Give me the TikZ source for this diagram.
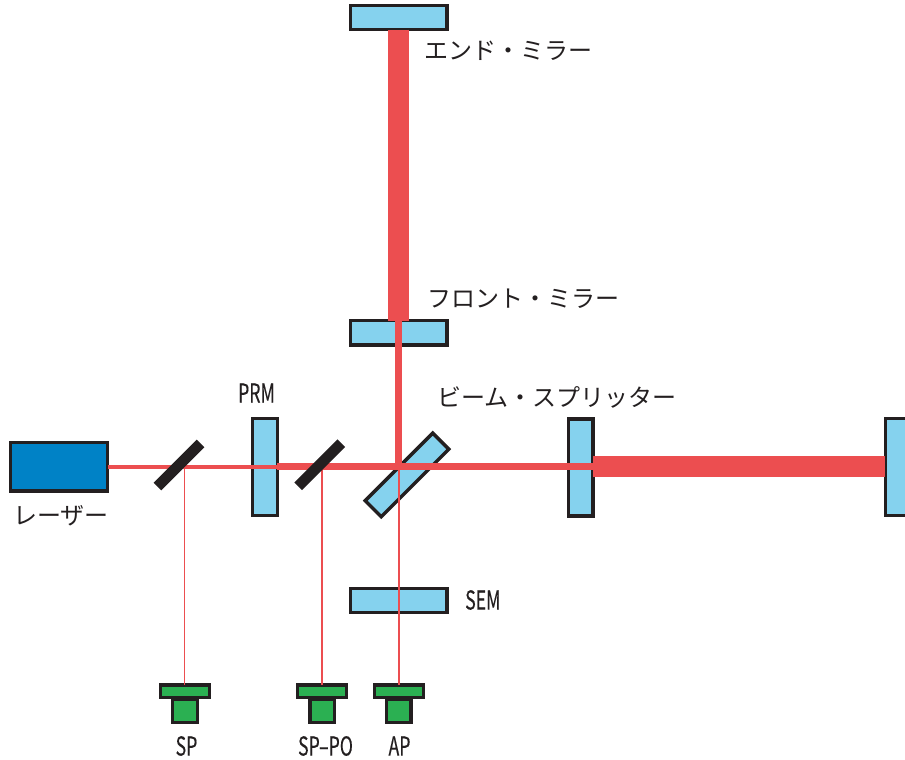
\documentclass[tikz,border=0pt]{standalone}
\usepackage{fontspec}
\setmainfont{Noto Sans CJK JP}
\newfontfamily\jpfont{Noto Sans CJK JP}
\newfontfamily\latfont[FakeStretch=0.68,FakeBold=0.25]{Noto Sans CJK JP}
\definecolor{beamred}{HTML}{EC4E50}
\definecolor{mirrorblue}{HTML}{85D2EE}
\definecolor{laserblue}{HTML}{0082C6}
\definecolor{detgreen}{HTML}{2BB052}
\definecolor{inkblack}{HTML}{231F20}
\tikzset{
  optic/.style={draw=inkblack,line width=3.4pt,inner sep=0pt,outer sep=0pt,rectangle},
  hmirror/.style={optic,fill=mirrorblue,minimum width=96.5pt,minimum height=24.5pt},
  vmirror/.style={optic,fill=mirrorblue,minimum width=24.5pt,minimum height=97pt},
  splitter/.style={hmirror,rotate=45,minimum width=95.5pt,minimum height=22.7pt},
  pickoff/.style={rectangle,fill=inkblack,draw=none,inner sep=0pt,outer sep=0pt,minimum width=61pt,minimum height=10.7pt,rotate=45},
  detplate/.style={optic,fill=detgreen,minimum width=49pt,minimum height=12.8pt},
  detbase/.style={optic,fill=detgreen,minimum width=24.5pt,minimum height=23pt},
  widebeam/.style={draw=beamred,line width=21pt},
  midbeam/.style={draw=beamred,line width=7pt},
  thinbeam/.style={draw=beamred,line width=4pt},
  hairbeam/.style={draw=beamred,line width=1.6pt},
  jplabel/.style={text=inkblack,inner sep=0pt,font=\jpfont\fontsize{24}{26}\selectfont},
  latlabel/.style={text=inkblack,inner sep=0pt,font=\latfont\fontsize{26}{28}\selectfont},
}
\begin{document}
\begin{tikzpicture}[x=1pt,y=-1pt]
\clip (0,0) rectangle (905,760);
% optics
\node[hmirror] (endm) at (398.7,17.5) {};
\node[hmirror] (frontm) at (398.7,332.8) {};
\node[hmirror] (sem) at (398.7,600.5) {};
\node[vmirror] (prm) at (265,466.7) {};
\node[vmirror] (inm) at (580.6,467.5) {};
\node[vmirror] (farm) at (897.7,466.7) {};
\node[splitter] (bs) at (407,474.9) {};
\node[optic,fill=laserblue,minimum width=97.4pt,minimum height=48.5pt] (laser) at (59,466.8) {};
% detectors
\node[detplate] (spt) at (185,691.3) {};
\node[detbase] (spb) at (185,711) {};
\node[detplate] (pot) at (322.2,691.3) {};
\node[detbase] (pob) at (322.2,711) {};
\node[detplate] (apt) at (398.7,691.3) {};
\node[detbase] (apb) at (398.7,711) {};
% beam junctions
\coordinate (bsc) at (398.7,466.8);
\coordinate (spj) at (184.5,466.8);
\coordinate (poj) at (322,466.8);
% beams
\draw[widebeam] (endm.south) -- (frontm.north);
\draw[widebeam] (inm.east|-bsc) -- (farm.west|-bsc);
\draw[thinbeam] (laser.east) -- (prm.east|-bsc);
\draw[midbeam] (prm.east|-bsc) -- (inm.east|-bsc);
\draw[midbeam] (frontm.north) -- ([yshift=3.5pt]bsc);
\draw[hairbeam] (spj) -- (spj|-spt.north);
\draw[hairbeam] (poj) -- (poj|-pot.north);
\draw[hairbeam] (bsc) -- (apt.north);
% pick-off mirrors
\node[pickoff] (po1) at (179,465) {};
\node[pickoff] (po2) at (319.7,464.8) {};
% labels
\node[jplabel,anchor=west] (l1) at (424,51) {エンド・ミラー};
\node[jplabel,anchor=west] (l2) at (427,298.5) {フロント・ミラー};
\node[jplabel,anchor=west] (l3) at (437,397.5) {ビーム・スプリッター};
\node[jplabel,anchor=west] (l4) at (13,516) {レーザー};
\node[latlabel] (l5) at (256.5,393) {PRM};
\node[latlabel,anchor=west] (l6) at (465,600) {SEM};
\node[latlabel] (l7) at (186.5,746) {SP};
\node[latlabel] (l8) at (325.5,746) {SP–PO};
\node[latlabel] (l9) at (399.5,746) {AP};
\end{tikzpicture}
\end{document}
